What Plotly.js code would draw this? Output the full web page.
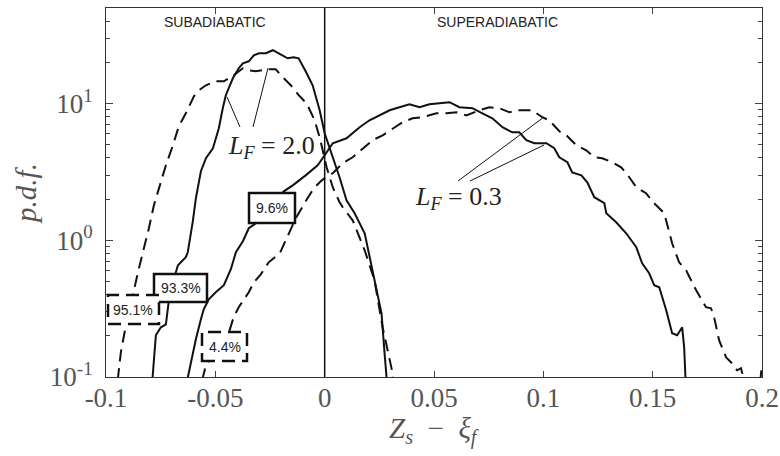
<!DOCTYPE html>
<html><head><meta charset="utf-8">
<script src="https://cdn.plot.ly/plotly-3.0.1.min.js"></script>
<style>html,body{margin:0;padding:0;background:#fff}#chart{width:780px;height:456px}</style>
</head><body><div id="chart"></div>
<script>
// L_F = 2.0, solid
const lf2SolidX = [-0.0787,-0.0787,-0.0772,-0.0749,-0.0726,-0.0712,-0.0694,-0.0671,-0.0635,-0.0626,-0.0603,-0.0589,-0.0566,-0.0543,-0.0511,-0.0484,-0.0466,-0.0452,-0.0420,-0.0393,-0.0374,-0.0347,-0.0324,-0.0301,-0.0269,-0.0237,-0.0210,-0.0169,-0.0142,-0.0119,-0.0087,-0.0055,-0.0023,0.0000,0.0037,0.0068,0.0100,0.0137,0.0183,0.0237,0.0260,0.0274,0.0283,0.0285];
const lf2SolidY = [0.05,0.0995,0.202,0.231,0.243,0.370,0.493,0.656,0.752,0.817,1.377,2.028,3.199,3.981,4.71,6.592,9.247,11.51,15.31,18.11,19.72,20.37,22.54,23.33,23.33,24.55,23.33,21.43,21.83,21.43,17.22,13.61,8.933,6.067,4.046,2.891,1.963,1.578,1.125,0.453,0.292,0.149,0.0995,0.05];
// L_F = 2.0, dashed
const lf2DashX = [-0.0950,-0.0945,-0.0932,-0.0909,-0.0886,-0.0877,-0.0854,-0.0831,-0.0804,-0.0781,-0.0749,-0.0726,-0.0694,-0.0667,-0.0635,-0.0598,-0.0575,-0.0543,-0.0498,-0.0461,-0.0416,-0.0374,-0.0347,-0.0315,-0.0260,-0.0224,-0.0187,-0.0146,-0.0119,-0.0082,-0.0046,-0.0023,-0.0009,0.0009,0.0037,0.0068,0.0082,0.0128,0.0183,0.0228,0.0265,0.0311,0.0315];
const lf2DashY = [0.05,0.0995,0.152,0.239,0.313,0.396,0.583,0.817,1.225,1.803,2.704,3.54,4.955,6.823,8.492,11.30,12.50,13.61,14.55,14.55,16.11,18.11,17.54,17.22,17.82,17.82,15.31,13.15,11.51,10.0,7.551,5.67,4.55,3.42,2.443,1.9,1.75,1.40,0.845,0.509,0.231,0.106,0.07];
// L_F = 0.3, solid
const lf03SolidX = [-0.0630,-0.0626,-0.0621,-0.0603,-0.0589,-0.0566,-0.0553,-0.0530,-0.0498,-0.0461,-0.0443,-0.0429,-0.0406,-0.0374,-0.0347,-0.0315,-0.0187,-0.0146,-0.0087,-0.0032,0.0000,0.0037,0.0100,0.0128,0.0160,0.0205,0.0251,0.0297,0.0342,0.0388,0.0434,0.0479,0.0525,0.0571,0.0616,0.0676,0.0721,0.0767,0.0813,0.0858,0.0890,0.0922,0.0959,0.1014,0.1050,0.1073,0.1110,0.1132,0.1174,0.1201,0.1233,0.1279,0.1288,0.1333,0.1379,0.1425,0.1452,0.1484,0.1507,0.1530,0.1562,0.1589,0.1612,0.1635,0.1644,0.1653,0.1658];
const lf03SolidY = [0.05,0.0995,0.108,0.152,0.189,0.264,0.313,0.370,0.417,0.469,0.555,0.614,0.817,0.984,1.225,1.33,2.28,2.523,2.985,3.54,4.188,5.129,5.572,6.067,6.714,7.551,8.204,8.933,9.397,9.886,9.397,9.886,10.05,10.23,9.397,9.247,8.492,7.798,6.714,6.166,6.166,5.395,5.129,5.129,4.71,4.046,3.724,3.14,2.985,2.655,2.065,1.866,1.578,1.354,1.125,0.889,0.679,0.574,0.469,0.453,0.308,0.209,0.202,0.231,0.165,0.0995,0.05];
// L_F = 0.3, dashed
const lf03DashX = [-0.0557,-0.0557,-0.0543,-0.0438,-0.0416,-0.0393,-0.0347,-0.0324,-0.0292,-0.0256,-0.0205,-0.0169,-0.0132,-0.0087,-0.0050,-0.0018,0.0000,0.0037,0.0082,0.0128,0.0174,0.0219,0.0265,0.0311,0.0356,0.0402,0.0447,0.0511,0.0557,0.0603,0.0648,0.0708,0.0753,0.0799,0.0845,0.0890,0.0950,0.0995,0.1027,0.1073,0.1105,0.1151,0.1196,0.1233,0.1269,0.1315,0.1356,0.1393,0.1425,0.1470,0.1507,0.1553,0.1575,0.1589,0.1621,0.1653,0.1699,0.1744,0.1767,0.1781,0.1804,0.1836,0.1863,0.1886,0.1904,0.1918,0.1950,0.1980,0.2000];
const lf03DashY = [0.05,0.0995,0.122,0.212,0.274,0.324,0.417,0.493,0.564,0.690,0.804,1.089,1.449,1.928,2.399,2.70,2.85,3.09,3.656,4.046,4.71,5.395,5.861,6.592,7.30,7.798,7.943,8.492,8.492,8.63,8.204,8.933,9.397,9.247,8.63,8.933,8.933,7.943,7.551,6.27,5.861,4.955,4.55,4.046,3.981,3.724,3.42,2.891,2.443,2.208,1.866,1.578,1.183,0.951,0.690,0.603,0.431,0.324,0.318,0.274,0.185,0.139,0.126,0.112,0.116,0.094,0.05,0.06,0.125];

const xTickVals = [-0.1,-0.05,0,0.05,0.1,0.15,0.2];
const xTickText = ['-0.1','-0.05','0','0.05','0.1','0.15','0.2'];
const yTickVals = [0.1,1,10];
const yTickText = ['10<sup>-1</sup>','10<sup>0</sup>','10<sup>1</sup>'];
const yMinorVals = [0.2,0.3,0.4,0.5,0.6,0.7,0.8,0.9,2,3,4,5,6,7,8,9,20,30,40];

const W=780,H=456,L=106,R=762,T=8,B=377;
const px = v => (v-L)/(R-L);
const py = v => (B-v)/(B-T);

const ink='#111';
const dashPat='12px,7px';
const boxDash='13px,7px';
function tr(x,y,dash){return {x:x,y:y,type:'scatter',mode:'lines',line:{color:ink,width:2,dash:dash||'solid'},hoverinfo:'skip',showlegend:false};}
const data=[tr(lf2SolidX,lf2SolidY),tr(lf2DashX,lf2DashY,dashPat),tr(lf03SolidX,lf03SolidY),tr(lf03DashX,lf03DashY,dashPat)];

function box(x0,x1,y0,y1,dash){return {type:'rect',xref:'paper',yref:'paper',x0:px(x0),x1:px(x1),y0:py(y1),y1:py(y0),line:{color:ink,width:2.5,dash:dash||'solid'},fillcolor:'#fff',layer:'above'};}
function seg(x0,y0,x1,y1){return {type:'line',xref:'paper',yref:'paper',x0:px(x0),y0:py(y0),x1:px(x1),y1:py(y1),line:{color:ink,width:1},layer:'above'};}
const shapes=[
 {type:'line',xref:'x',yref:'paper',x0:0,x1:0,y0:0,y1:1,line:{color:ink,width:1.5},layer:'above'},
 seg(240,127,227,97), seg(253,127,268,68),
 seg(458,181,544,117), seg(470,181,544,145),
 box(249,295,193,223), box(154,207,274,302),
 box(108,159,295,324,boxDash), box(202,247,332,361,boxDash)
];
const sans={family:'Liberation Sans, Arial, sans-serif',size:14,color:'#222'};
const serifL={family:'Liberation Serif, Times New Roman, serif',size:26,color:'#222'};
const tickFont={family:'Liberation Serif, Times New Roman, serif',size:27,color:'#555'};
const titleFont={family:'Liberation Serif, Times New Roman, serif',size:29,color:'#555'};
function ann(text,x,y,font,xref){return {text:text,xref:xref||'paper',yref:'paper',x:x,y:y,showarrow:false,font:font,xanchor:'center',yanchor:'middle'};}
const annotations=[
 ann('SUBADIABATIC',-0.05,py(22),sans,'x'),
 ann('SUPERADIABATIC',0.079,py(22),sans,'x'),
 ann('<i>L</i><sub><i>F</i></sub> = 2.0',px(271),py(147),serifL),
 ann('<i>L</i><sub><i>F</i></sub> = 0.3',px(458),py(198),serifL),
 ann('9.6%',px(272),py(208),sans),
 ann('93.3%',px(180.5),py(288),sans),
 ann('95.1%',px(133),py(309.5),sans),
 ann('4.4%',px(224.5),py(346.5),sans),
 ann('<i>Z</i><sub><i>s</i></sub>  −  <i>ξ</i><sub><i>f</i></sub>',px(434),py(431),titleFont)
];
const layout={
 width:W,height:H,margin:{l:L,r:W-R,t:T,b:H-B,pad:0},
 paper_bgcolor:'#fff',plot_bgcolor:'#fff',showlegend:false,
 xaxis:{range:[-0.1,0.2],tickvals:xTickVals,ticktext:xTickText,ticks:'inside',ticklen:6,tickwidth:1,tickcolor:'#444',
   showline:true,linecolor:'#333',linewidth:1,mirror:'ticks',showgrid:false,zeroline:false,tickfont:tickFont,ticklabelstandoff:-3},
 yaxis:{type:'log',range:[-1,Math.log10(50)],tickvals:yTickVals,ticktext:yTickText,ticks:'inside',ticklen:7,tickwidth:1,tickcolor:'#444',
   minor:{tickvals:yMinorVals,ticks:'inside',ticklen:4,tickcolor:'#444',showgrid:false},
   showline:true,linecolor:'#333',linewidth:1,mirror:'ticks',showgrid:false,zeroline:false,tickfont:tickFont,ticklabelstandoff:7,
   title:{text:'<i>p.d.f.</i>',font:titleFont,standoff:4}},
 shapes:shapes,annotations:annotations
};
Plotly.newPlot('chart',data,layout,{staticPlot:true,displayModeBar:false});
</script></body></html>
